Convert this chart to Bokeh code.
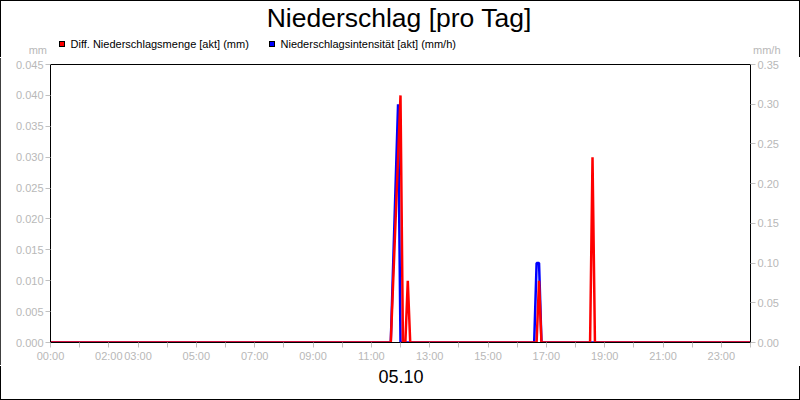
from bokeh.plotting import figure
from bokeh.layouts import column
from bokeh.models import (Range1d, LinearAxis, FixedTicker, PrintfTickFormatter, Div,
                          ColumnDataSource)
from bokeh.embed import file_html
from bokeh.resources import INLINE

# ---- data ----
title_text = "Niederschlag [pro Tag]"
date_label = "05.10"
menge_name = "Diff. Niederschlagsmenge [akt] (mm)"
intens_name = "Niederschlagsintensität [akt] (mm/h)"
left_unit = "mm"
right_unit = "mm/h"
menge_color = "#ff0000"
intens_color = "#0000ff"

menge_times = ["00:00", "11:40", "12:00", "12:05", "12:10", "12:15", "12:20",
               "16:40", "16:45", "16:50", "18:30", "18:35", "18:40", "24:00"]
menge_values = [0, 0, 0.040, 0, 0, 0.010, 0, 0, 0.010, 0, 0, 0.030, 0, 0]

intens_times = ["00:00", "11:40", "11:55", "12:00", "16:35", "16:40", "16:45", "16:50", "24:00"]
intens_values = [0, 0, 0.30, 0, 0, 0.10, 0.10, 0, 0]

left_ticks = [0.000, 0.005, 0.010, 0.015, 0.020, 0.025, 0.030, 0.035, 0.040, 0.045]
right_ticks = [0.00, 0.05, 0.10, 0.15, 0.20, 0.25, 0.30, 0.35]
hour_ticks = list(range(25))
labelled_hours = {0: "00:00", 2: "02:00", 3: "03:00", 5: "05:00", 7: "07:00", 9: "09:00",
                  11: "11:00", 13: "13:00", 15: "15:00", 17: "17:00", 19: "19:00",
                  21: "21:00", 23: "23:00"}


def to_hours(t):
    h, m = t.split(":")
    return int(h) + int(m) / 60.0


GRAY = "#c0c0c0"
TXT = "#b8b8b8"
FONT = "Liberation Sans"
W = 800
HEAD_H = 57
FOOT_H = 34
MAIN_H = 400 - HEAD_H - FOOT_H

BASE = f"position:absolute;white-space:nowrap;line-height:1;font-family:'{FONT}';margin:0;padding:0;"


def txt(text, size, color, top, left=None, right=None, center=None):
    pos = f"top:{top}px;"
    if left is not None:
        pos += f"left:{left}px;"
    if right is not None:
        pos += f"right:{right}px;"
    if center is not None:
        pos += f"left:{center}px;transform:translateX(-50%);"
    return f'<div style="{BASE}{pos}font-size:{size}px;color:{color};">{text}</div>'


def swatch(color, left, top):
    return (f'<div style="position:absolute;left:{left}px;top:{top}px;width:6px;height:6px;'
            f'background:{color};border:1px solid #000;"></div>')


# ---------- header: title, legend, units ----------
head_html = (
    f'<div style="position:relative;width:{W}px;height:{HEAD_H}px;box-sizing:border-box;'
    f'border-top:1px solid #000;border-left:1px solid #000;border-right:1px solid #000;'
    f'background:#fff;overflow:hidden;">'
    + txt(title_text, 26.5, "#000", 3.6, center=398)
    + swatch(menge_color, 58, 40)
    + txt(menge_name, 11, "#000", 38.2, left=69.5)
    + swatch(intens_color, 268, 40)
    + txt(intens_name, 11, "#000", 38.2, left=279.5)
    + txt(left_unit, 11, TXT, 43.6, right=W - 48)
    + txt(right_unit, 11, TXT, 43.9, left=752)
    + '</div>'
)
head = Div(text=head_html, width=W, height=HEAD_H, margin=0)

# ---------- main chart ----------
p = figure(width=W, height=MAIN_H, output_backend="svg", toolbar_location=None,
           x_range=Range1d(0, 24), y_range=Range1d(0, 0.045),
           x_axis_type=None, y_axis_type=None,
           min_border_left=50, min_border_right=50, min_border_top=64 - HEAD_H,
           min_border_bottom=MAIN_H - (64 - HEAD_H) - 278)
p.title.visible = False
p.background_fill_color = "white"
p.border_fill_color = "white"
p.outline_line_color = "black"
p.outline_line_width = 1
p.styles = {"outline": "1px solid black", "outline-offset": "-1px",
            "clip-path": "inset(1px 0px 1px 0px)"}
p.extra_y_ranges = {"int": Range1d(0, 0.35)}


def style_axis(ax):
    ax.axis_line_color = "black"
    ax.major_tick_line_color = GRAY
    ax.major_tick_out = 5
    ax.major_tick_in = 0
    ax.minor_tick_line_color = None
    ax.major_label_text_color = TXT
    ax.major_label_text_font = FONT
    ax.major_label_text_font_size = "11px"
    ax.major_label_standoff = 2


xaxis = LinearAxis(ticker=FixedTicker(ticks=hour_ticks))
xaxis.major_label_overrides = {h: labelled_hours.get(h, "") for h in hour_ticks}
style_axis(xaxis)
p.add_layout(xaxis, "below")

yl = LinearAxis(ticker=FixedTicker(ticks=left_ticks), formatter=PrintfTickFormatter(format="%.3f"))
style_axis(yl)
p.add_layout(yl, "left")

yr = LinearAxis(y_range_name="int", ticker=FixedTicker(ticks=right_ticks),
                formatter=PrintfTickFormatter(format="%.2f"))
style_axis(yr)
p.add_layout(yr, "right")

p.xgrid.ticker = FixedTicker(ticks=hour_ticks)
p.ygrid.ticker = FixedTicker(ticks=left_ticks)
p.grid.grid_line_color = GRAY
p.grid.grid_line_width = 1

src_i = ColumnDataSource(dict(x=[to_hours(t) for t in intens_times], y=intens_values))
src_m = ColumnDataSource(dict(x=[to_hours(t) for t in menge_times], y=menge_values))
p.line("x", "y", source=src_i, y_range_name="int", line_color=intens_color, line_width=2.5)
p.line("x", "y", source=src_m, line_color=menge_color, line_width=2.5)

# ---------- footer: date ----------
foot_html = (
    f'<div style="position:relative;width:{W}px;height:{FOOT_H}px;box-sizing:border-box;'
    f'border-bottom:1px solid #000;border-left:1px solid #000;border-right:1px solid #000;'
    f'background:#fff;overflow:hidden;">'
    + txt(date_label, 18, "#000", 1.8, center=400)
    + '</div>'
)
foot = Div(text=foot_html, width=W, height=FOOT_H, margin=0)

layout = column(head, p, foot, spacing=0)

open("out.html", "w").write(file_html(layout, INLINE))
